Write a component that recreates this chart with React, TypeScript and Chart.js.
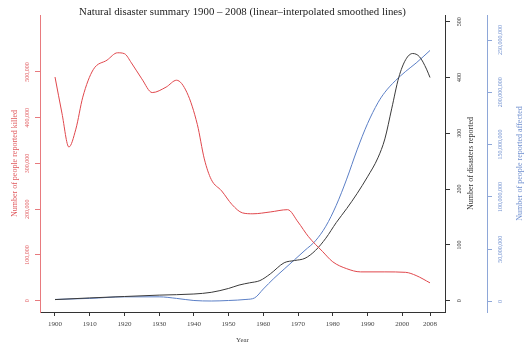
import React, { useEffect, useRef } from 'react';
import { Chart, registerables } from 'chart.js';

Chart.register(...registerables);

const TITLE = 'Natural disaster summary 1900 – 2008 (linear–interpolated smoothed lines)';
const X_TITLE = 'Year';
const KILLED_TITLE = 'Number of people reported killed';
const DISASTER_TITLE = 'Number of disasters reported';
const AFFECTED_TITLE = 'Number of people reported affected';

const killedYears = [1900, 1902, 1904, 1906, 1908, 1911, 1915, 1918, 1920, 1922, 1925, 1928, 1932, 1935, 1938, 1941, 1943, 1945, 1948, 1951, 1954, 1957, 1962, 1967, 1970, 1973, 1977, 1980, 1984, 1988, 1995, 2001, 2004, 2008];
const killedValues = [489000, 410000, 336000, 375000, 445000, 505000, 526000, 542000, 540000, 520000, 485000, 455000, 467000, 482000, 455000, 385000, 310000, 265000, 240000, 210000, 192000, 190000, 194000, 199000, 172000, 140000, 108000, 85000, 70000, 63000, 63000, 62000, 55000, 39000];

const disasterYears = [1900, 1910, 1920, 1930, 1940, 1945, 1950, 1953, 1956, 1959, 1962, 1966, 1969, 1972, 1975, 1978, 1981, 1984, 1987, 1990, 1993, 1995, 1997, 1999, 2001, 2003, 2005, 2007, 2008];
const disasterValues = [2, 5, 7.5, 10, 12, 15, 22, 28, 32, 36, 48, 68, 72, 76, 90, 112, 140, 165, 192, 222, 256, 290, 345, 400, 432, 443, 437, 415, 400];

const affectedYears = [1900, 1910, 1920, 1930, 1935, 1940, 1945, 1950, 1955, 1957.5, 1960, 1963, 1966, 1969, 1972, 1975, 1978, 1981, 1984, 1987, 1990, 1993, 1995, 1998, 2001, 2004, 2008];
const affectedValues = [2e6, 3e6, 4.5e6, 4.5e6, 3e6, 1e6, 0.5e6, 1e6, 2e6, 3.5e6, 12e6, 22e6, 31e6, 40e6, 49e6, 58e6, 72e6, 92e6, 117e6, 145e6, 170e6, 190e6, 200e6, 211e6, 220e6, 228e6, 240e6];

const yearTicks = [1900, 1910, 1920, 1930, 1940, 1950, 1960, 1970, 1980, 1990, 2000, 2008];
const killedTicks = [0, 100000, 200000, 300000, 400000, 500000];
const disasterTicks = [0, 100, 200, 300, 400, 500];
const affectedTicks = [0, 50000000, 100000000, 150000000, 200000000, 250000000];

const FAMILY = "'Liberation Serif', 'Times New Roman', serif";
const RED = '#e0474c';
const RED_AXIS = '#e87a7e';
const RED_TEXT = '#e05a5e';
const BLACK = '#3a3a3a';
const BLUE = '#5b7fc6';
const BLUE_AXIS = '#8ea7d8';
const BLUE_TEXT = '#6f8fcf';

const fmt = (v: any) => Number(v).toLocaleString('en-US');

function widest(labels: string[], size: number): number {
  const c = document.createElement('canvas').getContext('2d')!;
  c.font = `normal ${size}px ${FAMILY}`;
  return Math.max(...labels.map((l) => c.measureText(l).width));
}

const rightTitles = {
  id: 'rightTitles',
  afterDraw(chart: any) {
    const { ctx, chartArea } = chart;
    const cy = (chartArea.top + chartArea.bottom) / 2;
    const draw = (text: string, x: number, color: string) => {
      ctx.save();
      ctx.translate(x, cy);
      ctx.rotate(-Math.PI / 2);
      ctx.font = `normal 8px ${FAMILY}`;
      ctx.fillStyle = color;
      ctx.textAlign = 'center';
      ctx.textBaseline = 'middle';
      ctx.fillText(text, 0, 0);
      ctx.restore();
    };
    const sDis = chart.scales.yDis;
    const sAff = chart.scales.yAff;
    draw(DISASTER_TITLE, sDis.left + 26, '#333333');
    draw(AFFECTED_TITLE, sAff.left + 33, BLUE_TEXT);
  },
};

export default function App() {
  const ref = useRef<HTMLCanvasElement>(null);

  useEffect(() => {
    if (!ref.current) return;
    const tickSize = 6;
    const wRed = widest(killedTicks.map(fmt), tickSize);
    const wBlack = widest(disasterTicks.map(fmt), tickSize);
    const wBlue = widest(affectedTicks.map(fmt), tickSize);
    const redPad = 40 - 5 - 27.5 - wRed / 2;
    const blackPad = 14 - 5 - wBlack / 2;
    const bluePad = 13.5 - 5 - wBlue / 2;

    const chart = new Chart(ref.current, {
      type: 'line',
      data: {
        datasets: [
          {
            label: 'killed',
            data: killedYears.map((x, i) => ({ x, y: killedValues[i] })),
            yAxisID: 'yKilled',
            borderColor: RED,
            borderWidth: 1,
            pointRadius: 0,
            cubicInterpolationMode: 'monotone',
          },
          {
            label: 'disasters',
            data: disasterYears.map((x, i) => ({ x, y: disasterValues[i] })),
            yAxisID: 'yDis',
            borderColor: BLACK,
            borderWidth: 1,
            pointRadius: 0,
            cubicInterpolationMode: 'monotone',
          },
          {
            label: 'affected',
            data: affectedYears.map((x, i) => ({ x, y: affectedValues[i] })),
            yAxisID: 'yAff',
            borderColor: BLUE,
            borderWidth: 1,
            pointRadius: 0,
            cubicInterpolationMode: 'monotone',
          },
        ],
      },
      options: {
        responsive: false,
        animation: false,
        layout: { padding: 0 },
        font: { family: FAMILY },
        plugins: {
          legend: { display: false },
          tooltip: { enabled: false },
          title: {
            display: true,
            text: TITLE,
            fullSize: false,
            color: '#222',
            font: { family: FAMILY, size: 10.8, weight: 'normal' },
            padding: { top: 6, bottom: -3.96 },
          },
        },
        scales: {
          x: {
            type: 'linear',
            position: 'bottom',
            min: 1895.68,
            max: 2012.32,
            afterBuildTicks: (s: any) => {
              s.ticks = yearTicks.map((v) => ({ value: v }));
            },
            afterFit: (s: any) => {
              s.height = 33;
            },
            border: { display: true, color: '#333', width: 1 },
            grid: { drawOnChartArea: false, drawTicks: true, tickLength: 4, tickColor: '#333' },
            ticks: {
              font: { family: FAMILY, size: 7 },
              color: '#444',
              padding: 4,
              maxRotation: 0,
              minRotation: 0,
              autoSkip: false,
              callback: (v: any) => String(v),
            },
            title: {
              display: true,
              text: X_TITLE,
              color: '#444',
              font: { family: FAMILY, size: 7 },
              padding: { top: 0, bottom: 0.8 },
            },
          },
          yKilled: {
            type: 'linear',
            position: 'left',
            min: -24700,
            max: 624600,
            afterBuildTicks: (s: any) => {
              s.ticks = killedTicks.map((v) => ({ value: v }));
            },
            afterFit: (s: any) => {
              s.width = 40;
            },
            border: { display: true, color: RED_AXIS, width: 1 },
            grid: { drawOnChartArea: false, drawTicks: true, tickLength: 5, tickColor: RED_AXIS },
            ticks: {
              font: { family: FAMILY, size: tickSize },
              color: RED_TEXT,
              minRotation: 90,
              maxRotation: 90,
              crossAlign: 'center',
              padding: redPad,
              autoSkip: false,
              callback: fmt,
            },
            title: {
              display: true,
              text: KILLED_TITLE,
              color: RED_TEXT,
              font: { family: FAMILY, size: 8 },
              padding: { top: 10.2, bottom: 0 },
            },
          },
          yDis: {
            type: 'linear',
            position: 'right',
            weight: 0,
            min: -20.25,
            max: 512,
            afterBuildTicks: (s: any) => {
              s.ticks = disasterTicks.map((v) => ({ value: v }));
            },
            afterFit: (s: any) => {
              s.width = 42;
            },
            border: { display: true, color: '#333', width: 1 },
            grid: { drawOnChartArea: false, drawTicks: true, tickLength: 5, tickColor: '#333' },
            ticks: {
              font: { family: FAMILY, size: tickSize },
              color: '#333',
              minRotation: 90,
              maxRotation: 90,
              crossAlign: 'center',
              padding: blackPad,
              autoSkip: false,
              callback: fmt,
            },
            title: { display: false },
          },
          yAff: {
            type: 'linear',
            position: 'right',
            weight: 1,
            min: -10000000,
            max: 273900000,
            afterBuildTicks: (s: any) => {
              s.ticks = affectedTicks.map((v) => ({ value: v }));
            },
            afterFit: (s: any) => {
              s.width = 38;
            },
            border: { display: true, color: BLUE_AXIS, width: 1 },
            grid: { drawOnChartArea: false, drawTicks: true, tickLength: 5, tickColor: BLUE_AXIS },
            ticks: {
              font: { family: FAMILY, size: tickSize },
              color: BLUE_TEXT,
              minRotation: 90,
              maxRotation: 90,
              crossAlign: 'center',
              padding: bluePad,
              autoSkip: false,
              callback: fmt,
            },
            title: { display: false },
          },
        },
      } as any,
      plugins: [rightTitles],
    });
    return () => chart.destroy();
  }, []);

  return (
    <div style={{ position: 'absolute', left: 0, top: 0, width: 525, height: 345, background: '#fff' }}>
      <canvas ref={ref} width={525} height={345} style={{ display: 'block' }} />
    </div>
  );
}
